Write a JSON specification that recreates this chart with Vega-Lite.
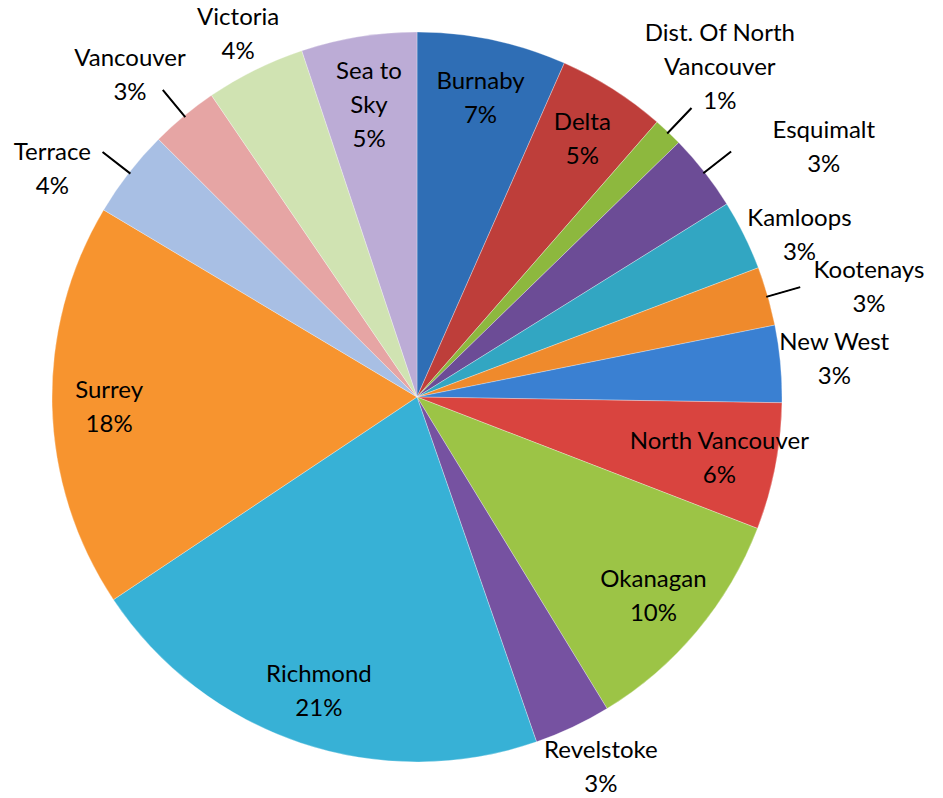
{
  "$schema": "https://vega.github.io/schema/vega-lite/v6.json",
  "width": 834,
  "height": 794,
  "autosize": "none",
  "padding": {"left": 0, "top": 0, "right": 109, "bottom": 4},
  "background": "white",
  "config": {"view": {"stroke": null}, "font": "Lato", "text": {"fontSize": 24, "lineHeight": 34, "lineBreak": "\n", "align": "center", "baseline": "middle", "color": "#000000"}},
  "data": {
    "values": [
      {"name": "Burnaby", "value": 6.6},
      {"name": "Delta", "value": 4.8},
      {"name": "Dist. Of North Vancouver", "value": 1.3},
      {"name": "Esquimalt", "value": 3.4},
      {"name": "Kamloops", "value": 3.1},
      {"name": "Kootenays", "value": 2.6},
      {"name": "New West", "value": 3.4},
      {"name": "North Vancouver", "value": 5.6},
      {"name": "Okanagan", "value": 10.4},
      {"name": "Revelstoke", "value": 3.4},
      {"name": "Richmond", "value": 20.9},
      {"name": "Surrey", "value": 17.9},
      {"name": "Terrace", "value": 3.9},
      {"name": "Vancouver", "value": 3.0},
      {"name": "Victoria", "value": 4.4},
      {"name": "Sea to Sky", "value": 5.1}
    ]
  },
  "transform": [
    {"window": [{"op": "row_number", "as": "idx"}]},
    {"joinaggregate": [{"op": "sum", "field": "value", "as": "total"}]},
    {"window": [{"op": "sum", "field": "value", "as": "cum"}], "sort": [{"field": "idx", "order": "ascending"}], "frame": [null, 0]},
    {"calculate": "datum.cum / datum.total", "as": "end"},
    {"calculate": "(datum.cum - datum.value) / datum.total", "as": "start"},
    {"calculate": "(datum.cum - datum.value / 2) / datum.total", "as": "mid"},
    {"calculate": "datum.mid + 0.0003", "as": "mid2"},
    {"calculate": "(datum.name == 'Dist. Of North Vancouver' ? 'Dist. Of North\\nVancouver' : datum.name == 'Sea to Sky' ? 'Sea to\\nSky' : datum.name) + '\\n' + format(datum.value, '.0f') + '%'", "as": "label"}
  ],
  "layer": [
    {
      "mark": {"type": "arc", "radius": 365, "stroke": "#ffffff", "strokeWidth": 0.6, "strokeOpacity": 0.5},
      "encoding": {
        "theta": {"field": "start", "type": "quantitative", "scale": {"domain": [0, 1], "zero": true, "nice": false}},
        "theta2": {"field": "end"},
        "color": {
          "field": "name",
          "type": "nominal",
          "legend": null,
          "scale": {
            "domain": ["Burnaby", "Delta", "Dist. Of North Vancouver", "Esquimalt", "Kamloops", "Kootenays", "New West", "North Vancouver", "Okanagan", "Revelstoke", "Richmond", "Surrey", "Terrace", "Vancouver", "Victoria", "Sea to Sky"],
            "range": ["#2F6EB5", "#BE3E3A", "#8DB83E", "#6C4C96", "#32A6C2", "#EF8A2C", "#3A80D2", "#D9443F", "#9CC446", "#7652A1", "#37B1D6", "#F7942F", "#A8BFE4", "#E6A5A4", "#D0E3B2", "#BCACD6"]
          }
        }
      }
    },
    {
      "transform": [{"filter": {"field": "name", "oneOf": ["Dist. Of North Vancouver", "Esquimalt", "Kootenays", "Terrace", "Vancouver"]}}],
      "mark": {"type": "arc", "radius": 398, "radius2": 364, "stroke": "#000000", "strokeWidth": 1.3, "fill": "#000000"},
      "encoding": {
        "theta": {"field": "mid", "type": "quantitative"},
        "theta2": {"field": "mid2"}
      }
    },
    {
      "transform": [{"filter": "datum.value >= 4.5 && datum.name != 'Sea to Sky'"}],
      "mark": {"type": "text", "radius": 308, "dy": -14},
      "encoding": {"theta": {"field": "mid", "type": "quantitative"}, "text": {"field": "label"}}
    },
    {
      "transform": [{"filter": {"field": "name", "equal": "Sea to Sky"}}],
      "mark": {"type": "text", "radius": 300, "dy": -29},
      "encoding": {"theta": {"field": "mid", "type": "quantitative"}, "text": {"field": "label"}}
    },
    {
      "transform": [{"filter": {"field": "name", "oneOf": ["New West", "Revelstoke"]}}],
      "mark": {"type": "text", "radius": 410, "dx": 9, "dy": -17},
      "encoding": {"theta": {"field": "mid", "type": "quantitative"}, "text": {"field": "label"}}
    },
    {
      "transform": [{"filter": {"field": "name", "equal": "Victoria"}}],
      "mark": {"type": "text", "radius": 410, "dx": 3, "dy": -12},
      "encoding": {"theta": {"field": "mid", "type": "quantitative"}, "text": {"field": "label"}}
    },
    {
      "transform": [{"filter": {"field": "name", "equal": "Kamloops"}}],
      "mark": {"type": "text", "radius": 410, "dx": 15, "dy": 4},
      "encoding": {"theta": {"field": "mid", "type": "quantitative"}, "text": {"field": "label"}}
    },
    {
      "transform": [{"filter": {"field": "name", "equal": "Dist. Of North Vancouver"}}],
      "mark": {"type": "text", "radius": 462, "dx": -15, "dy": -28},
      "encoding": {"theta": {"field": "mid", "type": "quantitative"}, "text": {"field": "label"}}
    },
    {
      "transform": [{"filter": {"field": "name", "equal": "Esquimalt"}}],
      "mark": {"type": "text", "radius": 462, "dx": 43, "dy": 19},
      "encoding": {"theta": {"field": "mid", "type": "quantitative"}, "text": {"field": "label"}}
    },
    {
      "transform": [{"filter": {"field": "name", "equal": "Kootenays"}}],
      "mark": {"type": "text", "radius": 462, "dx": 8, "dy": 2},
      "encoding": {"theta": {"field": "mid", "type": "quantitative"}, "text": {"field": "label"}}
    },
    {
      "transform": [{"filter": {"field": "name", "equal": "Terrace"}}],
      "mark": {"type": "text", "radius": 462, "dx": 0, "dy": 40},
      "encoding": {"theta": {"field": "mid", "type": "quantitative"}, "text": {"field": "label"}}
    },
    {
      "transform": [{"filter": {"field": "name", "equal": "Vancouver"}}],
      "mark": {"type": "text", "radius": 462, "dx": 8, "dy": 18},
      "encoding": {"theta": {"field": "mid", "type": "quantitative"}, "text": {"field": "label"}}
    }
  ]
}
